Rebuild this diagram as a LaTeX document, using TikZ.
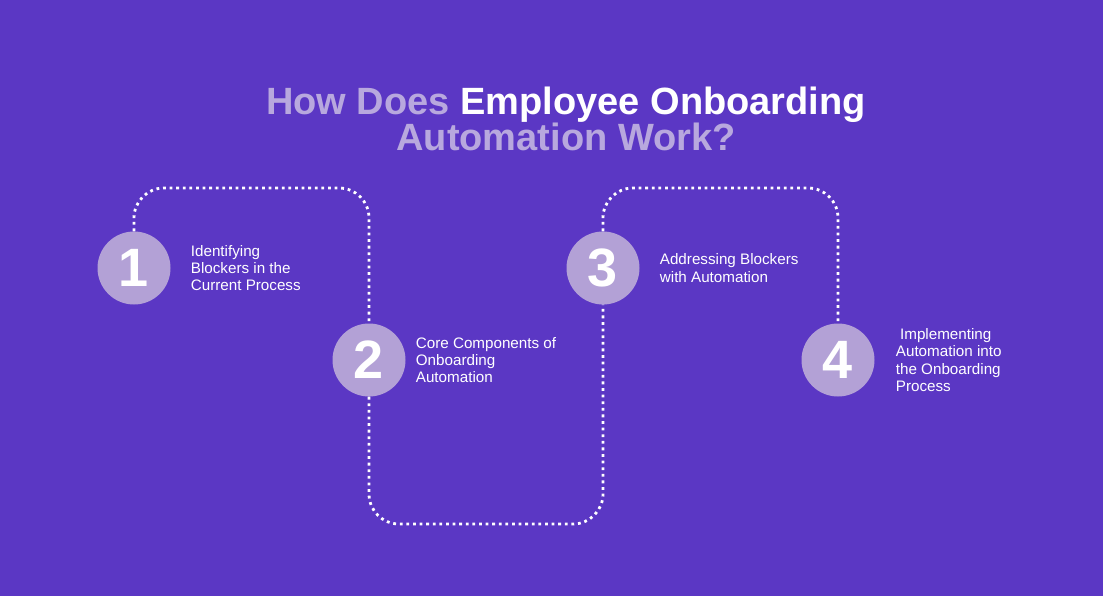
\documentclass[tikz,border=0pt]{standalone}
\usepackage{fontspec}
\setmainfont{Liberation Sans}
\usetikzlibrary{positioning}

\definecolor{bgpurple}{HTML}{5B37C4}
\definecolor{disc}{HTML}{B3A1D6}
\definecolor{pale}{HTML}{B8A8DE}

\tikzset{
  step disc/.style={circle,fill=disc,minimum size=73pt,inner sep=0pt,
    text=white,font=\fontsize{54}{54}\selectfont\bfseries},
  step text/.style={text=white,align=left,inner sep=0pt,anchor=west,
    font=\fontsize{15.2}{17.4}\selectfont},
  trail/.style={white,line width=2.8pt,dash pattern=on 2.8pt off 3.8pt,
    rounded corners=30pt}
}

\begin{document}
\begin{tikzpicture}[x=1pt,y=-1pt]
\fill[bgpurple] (0,0) rectangle (1103,596);
\useasboundingbox (0,0) rectangle (1103,596);

% title
\node[font=\fontsize{38}{36}\selectfont\bfseries,text=pale,align=center] (title) at (566,119)
  {How Does \textcolor{white}{Employee Onboarding}\\Automation Work?};

% steps
\node[step disc]	(n_1)	at (134,268)	{1};
\node[step disc]	(n_2)	at (369,360)	{2};
\node[step disc]	(n_3)	at (603,268)	{3};
\node[step disc]	(n_4)	at (838,360)	{4};

\node[step text]	(l_1)	[right=20pt of n_1]	{Identifying\\Blockers in the\\Current Process};
\node[step text]	(l_2)	[right=10pt of n_2]	{Core Components of\\Onboarding\\Automation};
\node[step text]	(l_3)	[right=20pt of n_3]	{Addressing Blockers\\with Automation};
\node[step text]	(l_4)	[right=21pt of n_4]	{\ Implementing\\Automation into\\the Onboarding\\Process};

% dotted trail
\coordinate (t_12) at (250,188);
\coordinate (b_23) at (486,524);
\coordinate (t_34) at (720,188);
\draw[trail] (n_1.north) |- (t_12) -| (n_2.north);
\draw[trail] (n_2.south) |- (b_23) -| (n_3.south);
\draw[trail] (n_3.north) |- (t_34) -| (n_4.north);
\end{tikzpicture}
\end{document}
